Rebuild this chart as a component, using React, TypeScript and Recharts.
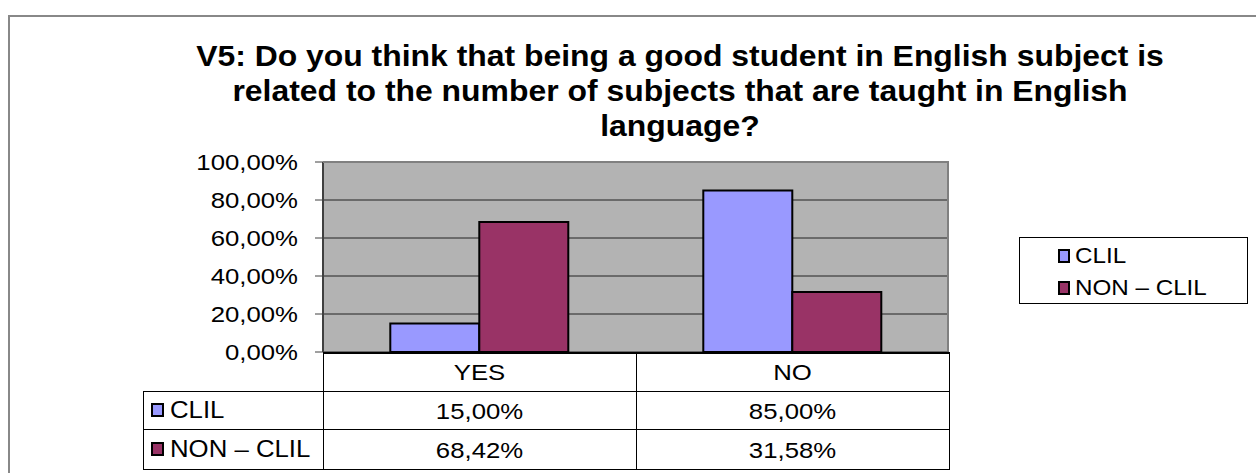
import { Bar, BarChart, CartesianGrid, Legend, XAxis, YAxis } from 'recharts'

const categories = ['YES', 'NO']
const clilValues = [0.15, 0.85]
const nonClilValues = [0.6842, 0.3158]
const seriesNames = ['CLIL', 'NON – CLIL']
const seriesColors = ['#9999FF', '#993366']
const yTicks = [0, 0.2, 0.4, 0.6, 0.8, 1]
const titleLines = [
  'V5: Do you think that being a good student in English subject is',
  'related to the number of subjects that are taught in English',
  'language?',
]

const data = categories.map((cat, i) => ({ cat, clil: clilValues[i], nonClil: nonClilValues[i] }))
const seriesValues = [clilValues, nonClilValues]

const FONT = '"Liberation Sans", Arial, sans-serif'
const FS = 23
const SX = 1.12
const fmt = (v: number) => (v * 100).toFixed(2).replace('.', ',') + '%'

// plot box
const PL = 323
const PR = 949
const PT = 162
const PB = 352
const TL = 143
const ROW = [352, 391, 429, 469]

function WideText({ x, y, anchor, children }: any) {
  return (
    <text
      transform={`translate(${x},${y}) scale(${SX},1)`}
      textAnchor={anchor}
      dominantBaseline="central"
      fontFamily={FONT}
      fontSize={FS}
      fill="#000"
    >
      {children}
    </text>
  )
}

function YTick(props: any) {
  const { x, y, payload } = props
  return <WideText x={x} y={y} anchor="end">{fmt(payload.value)}</WideText>
}

function TableTick(props: any) {
  const { x, y, payload, index } = props
  return (
    <g>
      <WideText x={x} y={y + 20} anchor="middle">{payload.value}</WideText>
      {seriesValues.map((vals, s) => (
        <WideText key={s} x={x} y={y + 59 + s * 39} anchor="middle">
          {fmt(vals[index])}
        </WideText>
      ))}
    </g>
  )
}

function LegendBox(props: any) {
  const { payload } = props
  return (
    <div style={{ paddingTop: 2, paddingLeft: 38 }}>
      {(payload || []).map((p: any) => (
        <div key={p.value} style={{ display: 'flex', alignItems: 'center', height: 32, fontFamily: FONT, fontSize: 22 }}>
          <span style={{ width: 8, height: 10, background: p.color, border: '2px solid #000', marginRight: 5 }} />
          <span style={{ display: 'inline-block', transform: 'scaleX(1.1)', transformOrigin: 'left center', whiteSpace: 'nowrap' }}>{p.value}</span>
        </div>
      ))}
    </div>
  )
}

const line = (left: number, top: number, width: number, height: number) => (
  <div style={{ position: 'absolute', left, top, width, height, background: '#000' }} />
)

export default function App() {
  return (
    <div style={{ position: 'absolute', left: 0, top: 0, width: 1256, height: 473, background: '#fff', overflow: 'hidden' }}>
      <div style={{ position: 'absolute', left: 8, top: 15, width: 1260, height: 480, borderLeft: '2px solid #888', borderTop: '2px solid #888' }} />
      <div
        style={{
          position: 'absolute',
          left: 180,
          top: 39,
          width: 1000,
          textAlign: 'center',
          fontFamily: FONT,
          fontWeight: 'bold',
          fontSize: 29,
          lineHeight: '35px',
          transform: 'scaleX(1.1)',
          transformOrigin: '500px 0',
        }}
      >
        {titleLines.map((t) => (
          <div key={t}>{t}</div>
        ))}
      </div>
      <div style={{ position: 'absolute', left: 0, top: 0 }}>
        <BarChart
          width={1256}
          height={473}
          data={data}
          margin={{ top: PT, left: PL - 100, right: 1256 - PR, bottom: 473 - PB - 117 }}
          barCategoryGap="21.5%"
          barGap={0}
        >
          <CartesianGrid horizontal vertical={false} fill="#B3B3B3" stroke="#222" fillOpacity={1} />
          <XAxis dataKey="cat" height={117} tickLine={false} axisLine={false} tickSize={0} tickMargin={0} tick={<TableTick />} interval={0} />
          <YAxis
            width={100}
            domain={[0, 1]}
            ticks={yTicks}
            tickSize={8}
            tickMargin={17}
            tick={<YTick />}
            axisLine={{ stroke: '#404040', strokeWidth: 2 }}
            tickLine={{ stroke: '#404040' }}
          />
          <Legend
            layout="vertical"
            align="center"
            verticalAlign="middle"
            content={<LegendBox />}
            wrapperStyle={{ left: 1019, top: 237, width: 229, height: 67, border: '1px solid #000', boxSizing: 'border-box', background: '#fff' }}
          />
          <Bar dataKey="clil" name={seriesNames[0]} fill={seriesColors[0]} stroke="#000" strokeWidth={2} isAnimationActive={false} />
          <Bar dataKey="nonClil" name={seriesNames[1]} fill={seriesColors[1]} stroke="#000" strokeWidth={2} isAnimationActive={false} />
        </BarChart>
      </div>
      {/* plot frame */}
      <div style={{ position: 'absolute', left: PL, top: PT - 1, width: PR - PL, height: PB - PT, borderTop: '2px solid #808080', borderRight: '2px solid #808080', boxSizing: 'border-box' }} />
      {/* data table grid */}
      {line(PL, ROW[0], PR - PL + 1, 2)}
      {line(TL, ROW[1], PR - TL + 1, 1)}
      {line(TL, ROW[2], PR - TL + 1, 1)}
      {line(TL, ROW[3], PR - TL + 1, 1)}
      {line(TL, ROW[1], 1, ROW[3] - ROW[1])}
      {line(PL, ROW[0], 1, ROW[3] - ROW[0])}
      {line((PL + PR) / 2, ROW[0], 1, ROW[3] - ROW[0])}
      {line(PR, ROW[0], 1, ROW[3] - ROW[0] + 1)}
      {seriesNames.map((n, s) => (
        <div
          key={n}
          style={{
            position: 'absolute',
            left: TL + 8,
            top: ROW[s + 1],
            height: ROW[s + 2] - ROW[s + 1],
            display: 'flex',
            alignItems: 'center',
            fontFamily: FONT,
            fontSize: FS,
          }}
        >
          <span style={{ width: 9, height: 10, background: seriesColors[s], border: '2px solid #000', marginRight: 6 }} />
          <span style={{ display: 'inline-block', transform: `scaleX(${SX})`, transformOrigin: 'left center', whiteSpace: 'nowrap' }}>{n}</span>
        </div>
      ))}
    </div>
  )
}
